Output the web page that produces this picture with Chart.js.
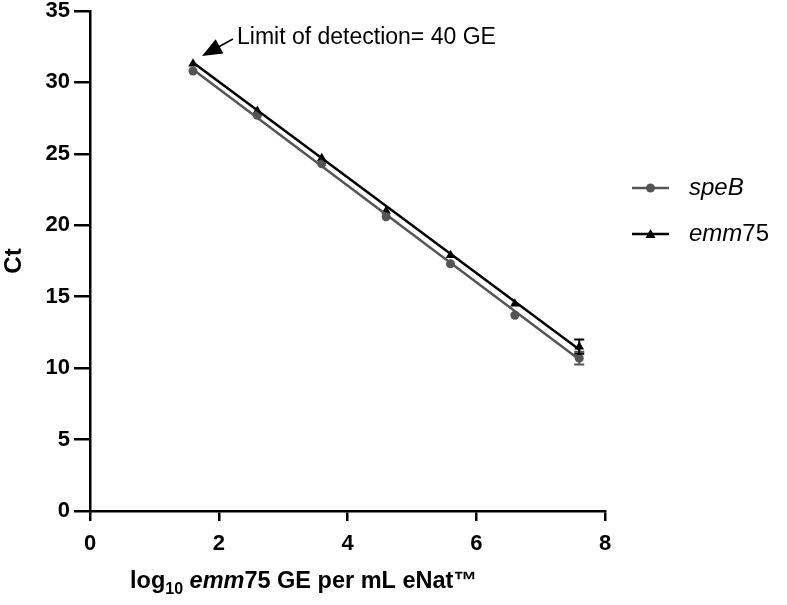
<!DOCTYPE html>
<html>
<head>
<meta charset="utf-8">
<script src="https://cdn.jsdelivr.net/npm/chart.js@4.4.0/dist/chart.umd.min.js"></script>
<style>
  html, body { margin: 0; padding: 0; background: #fff; }
  #wrap { width: 787px; height: 605px; }
</style>
</head>
<body>
<div id="wrap"><canvas id="chart"></canvas></div>
<script>
// log10 GE per mL
var logGE = [1.6, 2.6, 3.6, 4.6, 5.6, 6.6, 7.6];
var speB_ct = [30.8, 27.7, 24.3, 20.6, 17.3, 13.7, 10.7];
var speB_sd = [0.1, 0.1, 0.1, 0.1, 0.1, 0.15, 0.45];
var emm75_ct = [31.3, 28.0, 24.7, 21.0, 17.9, 14.5, 11.5];
var emm75_sd = [0.1, 0.1, 0.1, 0.1, 0.1, 0.1, 0.5];
// regression line ends
var fitX = [1.6, 7.6];
var speB_fit = [30.9, 10.6];
var emm75_fit = [31.4, 11.3];

var font = "'Liberation Sans', Arial, sans-serif";

function pts(xs, ys) {
  return xs.map(function(x, i) { return {x: x, y: ys[i]}; });
}

var errorBars = {
  id: 'errorBars',
  afterDatasetsDraw: function(chart) {
    var ctx = chart.ctx, xs = chart.scales.x, ys = chart.scales.y;
    var sets = [[speB_ct, speB_sd, '#555555'], [emm75_ct, emm75_sd, '#000000']];
    ctx.save();
    ctx.lineWidth = 2;
    sets.forEach(function(s) {
      ctx.strokeStyle = s[2];
      logGE.forEach(function(x, i) {
        if (s[1][i] < 0.2) return;
        var px = xs.getPixelForValue(x);
        var top = ys.getPixelForValue(s[0][i] + s[1][i]);
        var bot = ys.getPixelForValue(s[0][i] - s[1][i]);
        ctx.beginPath();
        ctx.moveTo(px, top); ctx.lineTo(px, bot);
        ctx.moveTo(px - 5, top); ctx.lineTo(px + 5, top);
        ctx.moveTo(px - 5, bot); ctx.lineTo(px + 5, bot);
        ctx.stroke();
      });
    });
    ctx.restore();
  }
};

var extras = {
  id: 'extras',
  afterDraw: function(chart) {
    var ctx = chart.ctx;
    ctx.save();
    // annotation
    ctx.fillStyle = '#000';
    ctx.font = '23px ' + font;
    ctx.textBaseline = 'middle';
    ctx.fillText('Limit of detection= 40 GE', 237, 38);
    var ax0 = 233, ay0 = 39;
    var ax1 = 202, ay1 = 56;
    var ang = Math.atan2(ay1 - ay0, ax1 - ax0);
    var c = Math.cos(ang), s = Math.sin(ang);
    ctx.strokeStyle = '#000';
    ctx.lineWidth = 1.5;
    ctx.beginPath();
    ctx.moveTo(ax0, ay0);
    ctx.lineTo(ax1 - 12 * c, ay1 - 12 * s);
    ctx.stroke();
    ctx.beginPath();
    ctx.moveTo(ax1, ay1);
    ctx.lineTo(ax1 - 20 * c + 8 * s, ay1 - 20 * s - 8 * c);
    ctx.lineTo(ax1 - 20 * c - 8 * s, ay1 - 20 * s + 8 * c);
    ctx.closePath();
    ctx.fill();

    // x axis title with subscript and italics
    var parts = [
      ['bold 23.5px ', 'log', 0],
      ['bold 16px ', '10', 6],
      ['bold 23.5px ', ' ', 0],
      ['italic bold 23.5px ', 'emm', 0],
      ['bold 23.5px ', '75 GE per mL eNat\u2122', 0]
    ];
    var x = 130, y = 588;
    ctx.textBaseline = 'alphabetic';
    parts.forEach(function(p) {
      ctx.font = p[0] + font;
      ctx.fillText(p[1], x, y + p[2]);
      x += ctx.measureText(p[1]).width;
    });

    // legend
    var legend = [['speB', '#555555', 'circle'], ['emm', '#000000', 'triangle']];
    var lx = 632, ly = [188, 234];
    legend.forEach(function(l, i) {
      ctx.strokeStyle = l[1];
      ctx.fillStyle = l[1];
      ctx.lineWidth = 2.5;
      ctx.beginPath();
      ctx.moveTo(lx, ly[i]); ctx.lineTo(lx + 37, ly[i]);
      ctx.stroke();
      ctx.beginPath();
      if (l[2] === 'circle') {
        ctx.arc(lx + 18.5, ly[i], 4.5, 0, Math.PI * 2);
      } else {
        ctx.moveTo(lx + 18.5, ly[i] - 5);
        ctx.lineTo(lx + 23.5, ly[i] + 4);
        ctx.lineTo(lx + 13.5, ly[i] + 4);
        ctx.closePath();
      }
      ctx.fill();
      ctx.fillStyle = '#000';
      ctx.textBaseline = 'middle';
      ctx.font = 'italic 24px ' + font;
      ctx.fillText(l[0], 689, ly[i]);
      if (i === 1) {
        var w = ctx.measureText(l[0]).width;
        ctx.font = '24px ' + font;
        ctx.fillText('75', 689 + w, ly[i]);
      }
    });
    ctx.restore();
  }
};

new Chart(document.getElementById('chart'), {
  type: 'scatter',
  data: {
    datasets: [
      {
        label: 'speB fit', type: 'line', data: pts(fitX, speB_fit),
        borderColor: '#555555', borderWidth: 2.5, pointRadius: 0, fill: false
      },
      {
        label: 'emm75 fit', type: 'line', data: pts(fitX, emm75_fit),
        borderColor: '#000000', borderWidth: 2.5, pointRadius: 0, fill: false
      },
      {
        label: 'speB', data: pts(logGE, speB_ct),
        backgroundColor: '#555555', borderColor: '#555555',
        pointStyle: 'circle', pointRadius: 4.5, borderWidth: 0
      },
      {
        label: 'emm75', data: pts(logGE, emm75_ct),
        backgroundColor: '#000000', borderColor: '#000000',
        pointStyle: 'triangle', pointRadius: 5.5, borderWidth: 0
      }
    ]
  },
  options: {
    responsive: true,
    maintainAspectRatio: false,
    animation: false,
    layout: { padding: { top: 0, right: 182, left: 0, bottom: 0 } },
    plugins: { legend: { display: false }, tooltip: { enabled: false } },
    scales: {
      x: {
        type: 'linear', min: 0, max: 8,
        ticks: { stepSize: 2, color: '#000', font: { family: font, size: 22, weight: 'bold' }, padding: 10 },
        grid: { drawOnChartArea: false, color: '#000', tickLength: 10, lineWidth: 2.5 },
        border: { color: '#000', width: 2.5 },
        afterFit: function(s) { s.height = 94; }
      },
      y: {
        min: 0, max: 35,
        ticks: { stepSize: 5, color: '#000', font: { family: font, size: 22, weight: 'bold', lineHeight: 1 }, padding: 4 },
        grid: { drawOnChartArea: false, color: '#000', tickLength: 16, lineWidth: 2.5 },
        border: { color: '#000', width: 2.5 },
        title: { display: true, text: 'Ct', color: '#000', font: { family: font, size: 24, weight: 'bold' }, padding: 0 },
        afterFit: function(s) { s.width = 90; s.paddingTop = 11; }
      }
    }
  },
  plugins: [errorBars, extras]
});
</script>
</body>
</html>
